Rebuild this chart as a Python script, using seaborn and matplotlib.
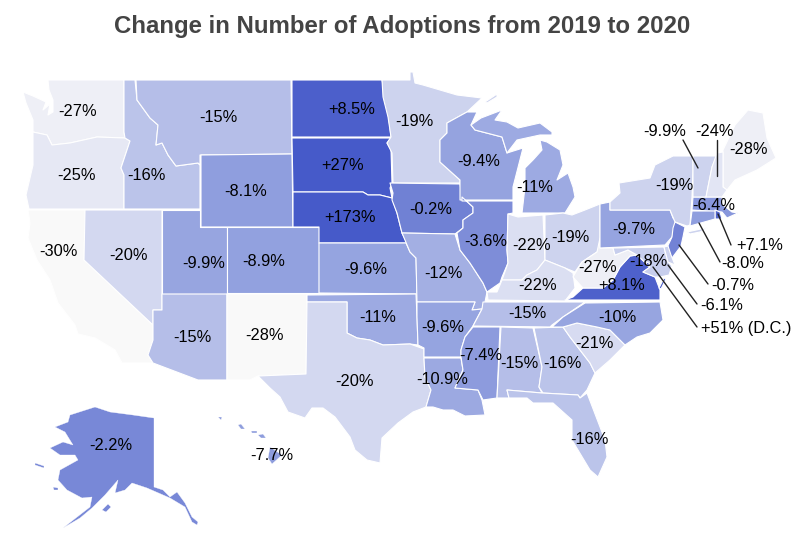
import matplotlib
matplotlib.use("Agg")
import matplotlib.pyplot as plt
from matplotlib.colors import Normalize
import seaborn as sns

states = ["WA", "OR", "CA", "NV", "ID", "MT", "WY", "UT", "CO", "AZ", "NM", "ND", "SD", "NE", "KS",
          "OK", "TX", "MN", "IA", "MO", "AR", "LA", "WI", "IL", "MI", "IN", "OH", "KY", "TN", "MS",
          "AL", "GA", "FL", "SC", "NC", "VA", "WV", "PA", "NY", "MD", "ME", "MA", "VT", "NH", "RI",
          "CT", "NJ", "DE", "DC", "AK", "HI"]
# fill values, read from the shades (NM, ME, VT and DE are shaded unlike their labels)
values = [-27, -25, -30, -20, -16, -15, -8.1, -9.9, -8.9, -15, -30, 8.5, 27, 173, -9.6,
          -11, -20, -19, -0.2, -12, -9.6, -10.9, -9.4, -3.6, -11, -22, -19, -22, -15, -7.4,
          -15, -16, -16, -21, -10, 8.1, -27, -9.7, -19, -18, -27, -6.4, -19, -24, 7.1,
          -8.0, -0.7, -19, 51, -2.2, -7.7]
labels = ["-27%", "-25%", "-30%", "-20%", "-16%", "-15%", "-8.1%", "-9.9%", "-8.9%", "-15%", "-28%", "+8.5%",
          "+27%", "+173%", "-9.6%", "-11%", "-20%", "-19%", "-0.2%", "-12%", "-9.6%", "-10.9%", "-9.4%", "-3.6%",
          "-11%", "-22%", "-19%", "-22%", "-15%", "-7.4%", "-15%", "-16%", "-16%", "-21%", "-10%", "+8.1%",
          "-27%", "-9.7%", "-19%", "-18%", "-28%", "-6.4%", "-9.9%", "-24%", "+7.1%", "-8.0%", "-0.7%", "-6.1%",
          "+51% (D.C.)", "-2.2%", "-7.7%"]
label_x = [78, 76, 58, 129, 146, 218, 246, 204, 264, 192, 265, 352, 343, 350, 366,
           378, 354, 414, 431, 443, 443, 442, 479, 486, 535, 532, 570, 538, 527, 481,
           519, 562, 589, 594, 617, 622, 598, 634, 674, 648, 748, 714, 665, 714, 760,
           743, 733, 722, 746, 111, 272]
label_y = [112, 175, 251, 255, 175, 117, 191, 263, 262, 337, 336, 109, 166, 218, 270,
           317, 382, 121, 209, 273, 328, 380, 161, 242, 188, 245, 238, 286, 314, 355,
           364, 364, 439, 344, 318, 286, 267, 229, 186, 261, 150, 205, 131, 131, 245,
           264, 285, 306, 329, 445, 455]

# hand traced outlines, in picture pixels
outlines = {
    "WA": [[(48, 80), (124, 80), (124, 132), (125, 138), (97, 137), (70, 143), (52, 145), (47, 135), (33, 132),
            (33, 120), (26, 103), (23, 92), (33, 96), (46, 102), (43, 110), (50, 104), (48, 115), (53, 112),
            (53, 100), (49, 90)]],
    "OR": [[(33, 132), (47, 135), (52, 145), (70, 143), (97, 137), (125, 138), (130, 141), (122, 165), (121, 168),
            (124, 175), (124, 209), (29, 209), (26, 195), (33, 165)]],
    "CA": [[(28, 210), (85, 210), (84, 260), (153, 325), (153, 340), (148, 355), (153, 363), (122, 363), (115, 350),
            (95, 338), (78, 334), (75, 325), (58, 303), (50, 280), (37, 260), (28, 238), (30, 223)]],
    "NV": [[(85, 210), (162, 210), (162, 294), (162, 310), (153, 310), (153, 325), (84, 260)]],
    "ID": [[(124, 80), (135, 80), (137, 100), (150, 118), (158, 125), (156, 145), (162, 143), (168, 155), (176, 166),
            (198, 163), (200, 165), (200, 209), (124, 209), (124, 175), (121, 168), (130, 141), (125, 138), (124, 132)]],
    "MT": [[(136, 80), (291, 80), (292, 154), (200, 155), (200, 165), (198, 163), (176, 166), (168, 155), (162, 143),
            (156, 145), (158, 125), (150, 118), (137, 100)]],
    "WY": [[(201, 155), (292, 154), (293, 227), (201, 227)]],
    "UT": [[(162, 210), (200, 210), (200, 227), (227, 227), (227, 294), (162, 294)]],
    "CO": [[(227, 227), (319, 227), (319, 293), (227, 293)]],
    "AZ": [[(162, 294), (227, 294), (227, 380), (198, 380), (153, 363), (148, 355), (153, 340), (153, 310), (162, 310)]],
    "NM": [[(227, 294), (307, 294), (306, 374), (258, 376), (250, 380), (227, 380)]],
    "ND": [[(292, 80), (382, 80), (386, 100), (389, 120), (391, 137), (292, 137)]],
    "SD": [[(292, 138), (391, 138), (387, 143), (391, 150), (392, 183), (390, 188), (392, 198), (380, 195), (368, 195),
            (363, 192), (293, 192)]],
    "NE": [[(293, 192), (363, 192), (368, 195), (380, 195), (392, 198), (397, 213), (402, 233), (407, 243), (319, 243), (319, 227), (293, 227)]],
    "KS": [[(319, 243), (406, 243), (410, 252), (416, 258), (417, 294), (319, 293)]],
    "OK": [[(307, 295), (416, 294), (417, 317), (418, 345), (410, 344), (383, 345), (370, 340), (357, 338), (347, 333), (347, 302), (307, 302)]],
    "TX": [[(307, 302), (347, 302), (347, 333), (357, 338), (370, 340), (383, 345), (410, 344), (424, 349), (424, 358),
            (425, 377), (431, 390), (426, 407), (413, 412), (398, 423), (382, 438), (380, 463), (367, 460), (355, 450),
            (350, 437), (335, 417), (323, 408), (312, 408), (305, 418), (288, 412), (280, 397), (270, 388), (258, 376), (306, 374)]],
    "MN": [[(382, 80), (410, 80), (410, 72), (413, 72), (415, 83), (423, 85), (440, 90), (457, 95), (482, 98), (467, 112),
            (447, 123), (447, 133), (440, 140), (440, 162), (460, 180), (460, 183), (393, 183), (392, 153), (387, 143),
            (391, 137), (388, 117), (383, 97)], [(485, 102), (497, 94), (497, 97), (487, 103)]],
    "IA": [[(390, 183), (460, 184), (462, 197), (473, 207), (473, 213), (463, 220), (463, 228), (455, 234), (402, 233),
            (397, 213), (392, 200), (393, 193)]],
    "MO": [[(402, 233), (455, 234), (460, 250), (470, 263), (483, 283), (487, 292), (485, 302), (482, 309), (472, 310),
            (475, 302), (417, 302), (416, 258), (410, 252)]],
    "AR": [[(417, 302), (475, 302), (472, 310), (482, 309), (473, 326), (465, 337), (461, 350), (461, 357), (424, 357),
            (424, 348), (418, 345), (417, 317)]],
    "LA": [[(424, 358), (461, 358), (463, 370), (455, 388), (478, 390), (482, 400), (485, 415), (465, 416), (453, 410),
            (443, 410), (433, 407), (426, 407), (431, 390), (425, 377)]],
    "WI": [[(467, 112), (477, 112), (471, 125), (475, 130), (502, 137), (507, 153), (523, 148), (513, 187), (513, 200),
            (460, 200), (460, 180), (440, 162), (440, 140), (447, 133), (447, 123)]],
    "IL": [[(462, 201), (513, 201), (513, 213), (508, 214), (507, 250), (508, 263), (502, 277), (500, 283), (487, 292),
            (483, 283), (470, 263), (460, 250), (457, 233), (463, 228), (463, 220), (473, 213), (473, 207), (462, 197)]],
    "MI": [[(522, 213), (525, 187), (525, 168), (533, 160), (542, 150), (540, 140), (547, 142), (560, 150), (563, 165),
            (557, 180), (568, 173), (573, 187), (575, 197), (565, 213)],
           [(471, 125), (481, 118), (502, 110), (495, 120), (507, 122), (518, 128), (540, 123), (552, 132), (552, 135),
            (540, 135), (517, 140), (507, 153), (502, 137), (475, 130)]],
    "IN": [[(508, 214), (518, 217), (543, 215), (545, 260), (537, 270), (527, 275), (522, 280), (502, 280), (508, 263), (507, 250)]],
    "OH": [[(545, 215), (563, 213), (572, 215), (585, 210), (600, 204), (600, 248), (597, 252), (582, 262), (575, 272),
            (565, 268), (545, 260)]],
    "KY": [[(487, 292), (488, 300), (565, 301), (575, 288), (573, 273), (565, 268), (545, 260), (537, 270), (527, 275),
            (522, 280), (502, 280), (497, 292)]],
    "TN": [[(483, 302), (585, 302), (563, 317), (552, 325), (550, 327), (473, 326), (482, 309)]],
    "MS": [[(473, 327), (500, 327), (497, 398), (483, 400), (478, 390), (455, 388), (463, 370), (461, 357), (461, 350), (465, 337)]],
    "AL": [[(501, 327), (533, 328), (542, 367), (539, 387), (542, 393), (507, 390), (509, 398), (497, 398)]],
    "GA": [[(534, 328), (563, 327), (570, 337), (590, 363), (595, 373), (587, 390), (580, 398), (578, 395), (543, 393), (539, 387), (542, 367)]],
    "FL": [[(542, 393), (578, 395), (580, 398), (587, 393), (605, 440), (607, 457), (598, 477), (590, 470), (572, 440),
            (572, 420), (553, 403), (533, 403), (527, 398), (509, 398), (507, 390)]],
    "SC": [[(563, 327), (577, 323), (597, 327), (610, 330), (625, 345), (610, 360), (595, 373), (590, 363), (570, 337)]],
    "NC": [[(585, 303), (660, 302), (663, 320), (650, 333), (637, 337), (625, 345), (610, 330), (597, 327), (577, 323),
            (563, 327), (552, 327), (563, 317)]],
    "VA": [[(565, 300), (660, 300), (660, 290), (655, 277), (643, 272), (650, 267), (637, 255), (630, 256), (620, 267),
            (613, 280), (603, 288), (583, 288), (573, 297)], [(659, 288), (664, 278), (666, 279), (661, 289)]],
    "WV": [[(600, 238), (600, 248), (613, 248), (615, 255), (628, 250), (637, 255), (630, 256), (620, 267), (613, 280),
            (603, 288), (583, 288), (573, 277), (577, 270), (582, 262), (597, 252)]],
    "PA": [[(600, 204), (610, 202), (610, 210), (670, 210), (673, 218), (677, 222), (672, 237), (665, 245), (600, 248)]],
    "NY": [[(610, 202), (620, 193), (619, 183), (650, 178), (655, 165), (673, 156), (693, 156), (693, 170), (692, 197),
            (690, 225), (687, 226), (675, 222), (670, 210), (610, 210)], [(687, 232), (710, 227), (700, 232), (690, 234)]],
    "MD": [[(613, 248), (664, 247), (668, 262), (672, 266), (669, 275), (660, 277), (655, 277), (643, 272), (650, 267),
            (637, 255), (628, 250), (615, 255)]],
    "ME": [[(723, 150), (735, 125), (748, 110), (763, 113), (767, 138), (776, 158), (757, 170), (735, 180), (727, 190), (723, 187)]],
    "MA": [[(693, 197), (722, 197), (723, 205), (732, 212), (738, 213), (727, 218), (722, 212), (692, 210)]],
    "VT": [[(693, 156), (717, 156), (712, 167), (706, 197), (693, 197), (693, 170)]],
    "NH": [[(717, 153), (723, 152), (723, 187), (727, 190), (722, 197), (706, 197), (712, 167)]],
    "RI": [[(715, 210), (720, 212), (722, 219), (715, 219)]],
    "CT": [[(692, 211), (715, 211), (715, 219), (690, 226)]],
    "NJ": [[(675, 222), (685, 227), (683, 237), (681, 246), (672, 258), (665, 252), (672, 237), (673, 228)]],
    "DE": [[(664, 247), (668, 246), (671, 255), (675, 265), (668, 262)]],
    "DC": [[(647, 262), (650, 264), (648, 266), (646, 264)]],
    "AK": [[(55, 427), (68, 422), (70, 415), (95, 407), (110, 412), (133, 415), (154, 418), (154, 487), (163, 490), (170, 497),
            (177, 492), (185, 503), (192, 517), (198, 522), (197, 525), (192, 522), (185, 507), (170, 498), (147, 488), (132, 483),
            (125, 490), (115, 493), (118, 480), (105, 495), (92, 508), (80, 518), (63, 528), (90, 507), (92, 497), (82, 498),
            (67, 490), (58, 480), (60, 470), (78, 460), (75, 455), (60, 455), (50, 448), (63, 442), (73, 445), (65, 432)],
           [(102, 510), (108, 504), (111, 507), (106, 512)], [(35, 463), (44, 466), (44, 468), (35, 465)], [(53, 487), (58, 488), (58, 490), (54, 490)]],
    "HI": [[(270, 447), (282, 455), (272, 464), (268, 458)], [(218, 417), (222, 417), (221, 420)], [(238, 425), (241, 424), (245, 429), (241, 429)],
           [(251, 431), (257, 431), (257, 433), (252, 433)], [(258, 435), (263, 434), (266, 438), (261, 438)]],
}

# leader lines for the small states: start and end in pixels
leaders = {
    "VT": [(683, 140), (698, 168)],
    "NH": [(717, 140), (717, 176)],
    "RI": [(731, 245), (718, 214)],
    "CT": [(720, 262), (699, 223)],
    "NJ": [(708, 284), (679, 245)],
    "DE": [(697, 304), (668, 265)],
    "DC": [(697, 327), (653, 267)],
}

sns.set_theme(style="white")
plt.rcParams["font.family"] = ["Liberation Sans", "DejaVu Sans"]

cmap = sns.blend_palette(["#f9f9f9", "#d3d8f0", "#97a5e0", "#6f80d4", "#465ac9"], as_cmap=True)
norm = Normalize(vmin=-30, vmax=10)

fig = plt.figure(figsize=(8, 5.48), dpi=100)
ax = fig.add_axes([0, 0, 1, 1])
ax.set_xlim(0, 800)
ax.set_ylim(548, 0)
ax.axis("off")

for state, value in zip(states, values):
    edge = 0.25 if state in ("AK", "HI") else 0.8
    for ring in outlines[state]:
        xs, ys = zip(*ring)
        ax.fill(xs, ys, facecolor=cmap(norm(value)), edgecolor="white", linewidth=edge, joinstyle="round")

for line in leaders.values():
    xs, ys = zip(*line)
    ax.plot(xs, ys, color="#222222", linewidth=1.0)

for text, x, y in zip(labels, label_x, label_y):
    ax.text(x, y, text, ha="center", va="center", fontsize=11.8, color="black")

ax.text(402, 27, "Change in Number of Adoptions from 2019 to 2020", ha="center", va="center",
        fontsize=17.3, fontweight="bold", color="#444444")

plt.savefig("out.png", dpi=100)
plt.close()
